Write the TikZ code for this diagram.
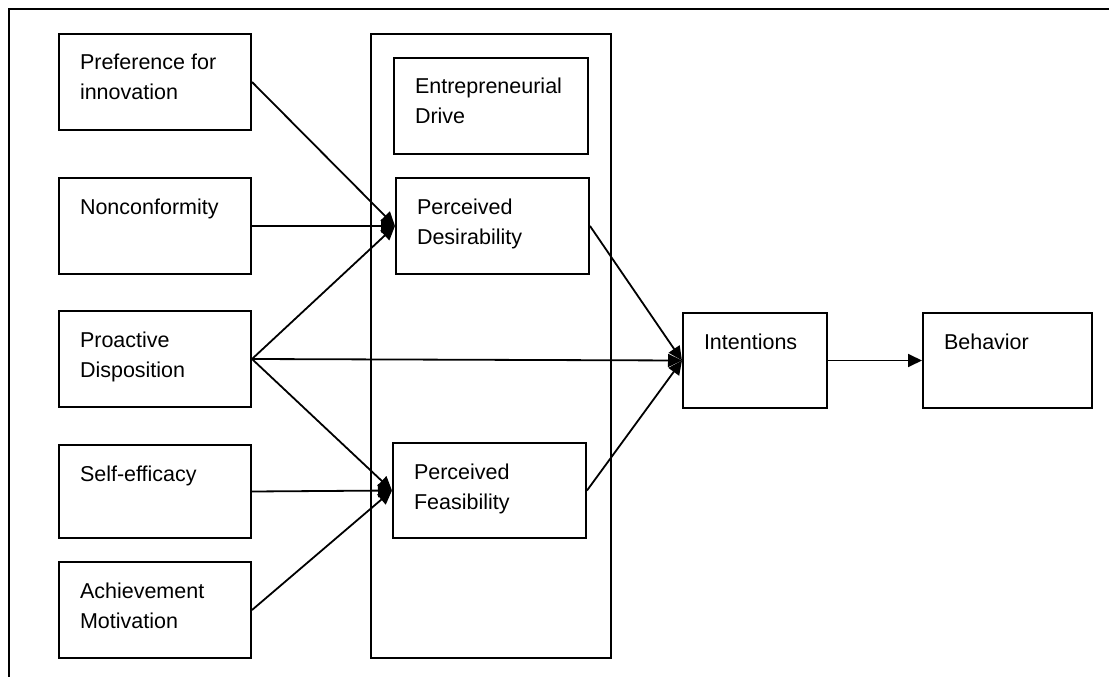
\documentclass[tikz,border=0pt]{standalone}
\usepackage{fontspec}
\setmainfont{Liberation Sans}
\usetikzlibrary{arrows.meta}
\newcommand{\bxt}[3]{\parbox[c][#2][t]{#1}{\fontsize{21.5pt}{30pt}\selectfont\leftskip=21pt\rightskip=0pt plus 1fil\vspace*{15pt}\strut #3}}
\tikzset{
  box/.style={draw, line width=2pt, inner sep=0pt, anchor=north west},
  conn/.style={line width=1.8pt, -{Triangle[length=14pt,width=13pt]}},
  frame/.style={line width=2pt}
}
\begin{document}
\begin{tikzpicture}[x=1pt,y=-1pt]
\useasboundingbox (0,0) rectangle (1109,677);
\coordinate (fb) at (9,677);
\coordinate (fc) at (9,9);
\coordinate (fr) at (1109,9);
\draw[frame] (fb) -- (fc) -- (fr);
% container
\node[box, minimum width=240pt, minimum height=624pt] (cont) at (370,33) {};
% left column
\node[box] (pref) at (58,33) {\bxt{192pt}{96pt}{Preference for\\innovation}};
\node[box] (nonc) at (58,177) {\bxt{192pt}{96pt}{Nonconformity}};
\node[box] (proa) at (58,310) {\bxt{192pt}{96pt}{Proactive\\Disposition}};
\node[box] (self) at (58,444) {\bxt{192pt}{93pt}{Self-efficacy}};
\node[box] (achi) at (58,561) {\bxt{192pt}{96pt}{Achievement\\Motivation}};
% middle
\node[box] (drive) at (393,57) {\bxt{194pt}{96pt}{Entrepreneurial\\Drive}};
\node[box] (desi) at (395,177) {\bxt{193pt}{96pt}{Perceived\\Desirability}};
\node[box] (feas) at (392,442) {\bxt{193pt}{95pt}{Perceived\\Feasibility}};
% right
\node[box] (inte) at (682,312) {\bxt{144pt}{95pt}{Intentions}};
\node[box] (beha) at (922,312) {\bxt{169pt}{95pt}{Behavior}};
% connectors
\draw[conn] (pref.east) -- (desi.west);
\draw[conn] (nonc.east) -- (desi.west);
\draw[conn] (proa.east) -- (desi.west);
\draw[conn] (proa.east) -- (inte.west);
\draw[conn] (proa.east) -- (feas.west);
\draw[conn] (self.east) -- (feas.west);
\draw[conn] (achi.east) -- (feas.west);
\draw[conn] (desi.east) -- (inte.west);
\draw[conn] (feas.east) -- (inte.west);
\draw[conn] (inte.east) -- (beha.west);
\end{tikzpicture}
\end{document}
